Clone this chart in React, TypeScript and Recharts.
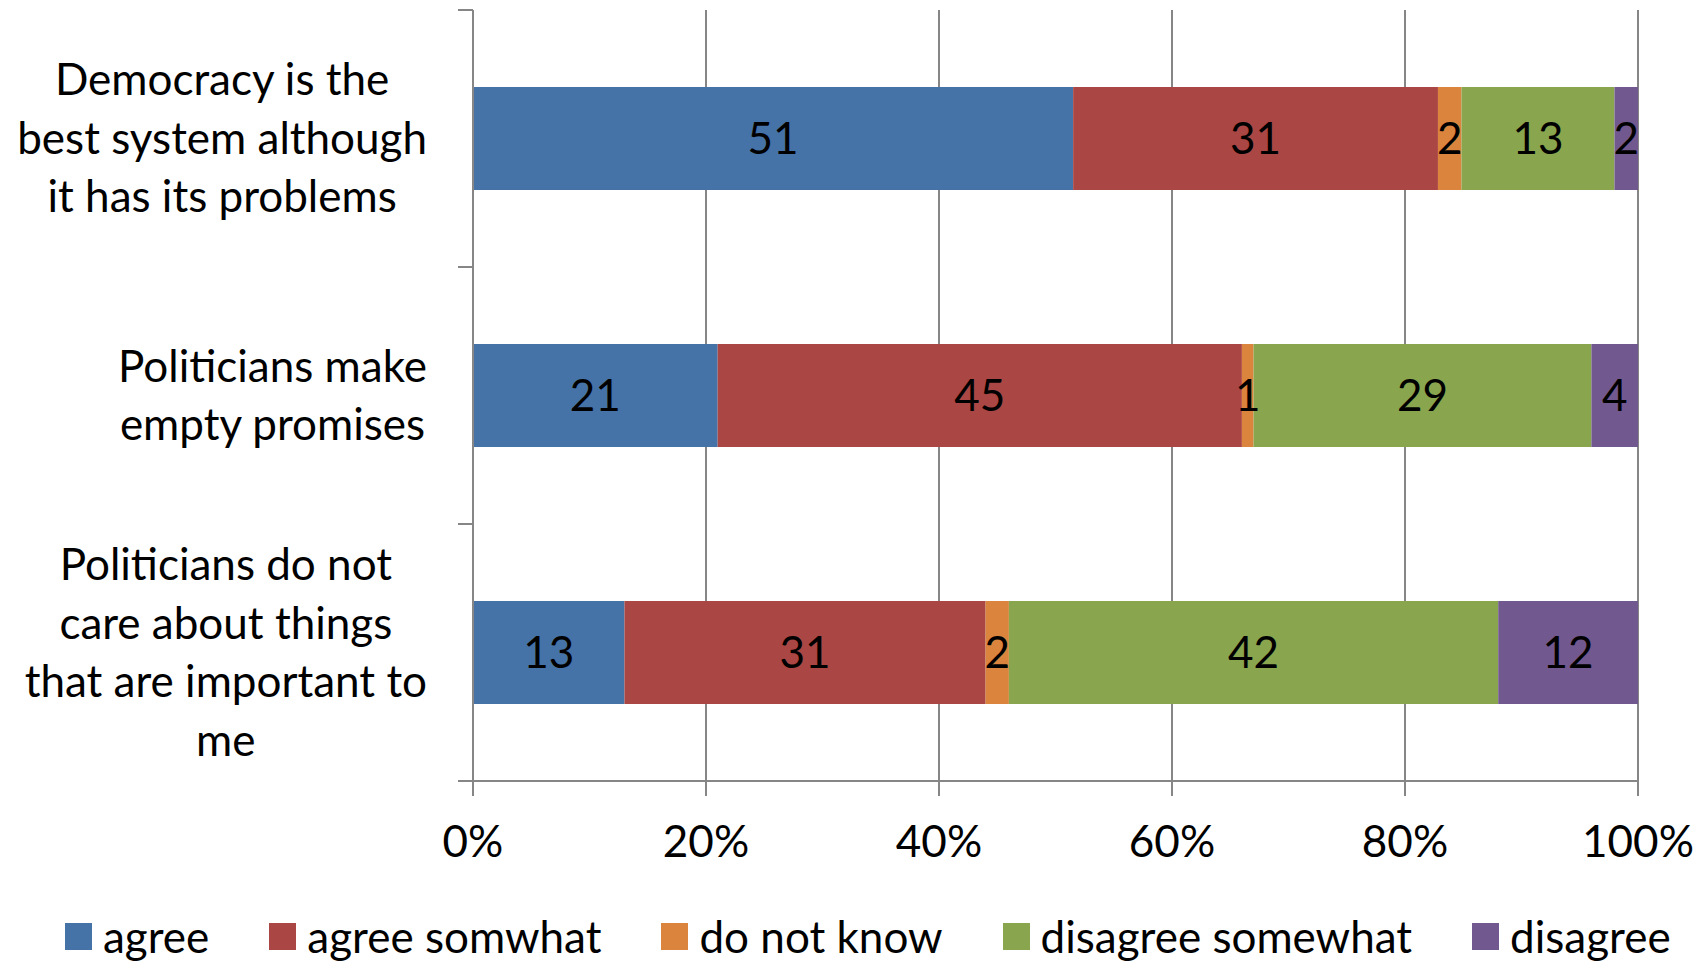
import { BarChart, Bar, XAxis, YAxis, CartesianGrid, Legend, LabelList } from "recharts";

const statements = [
  "Democracy is the\nbest system although\nit has its problems",
  "Politicians make\nempty promises",
  "Politicians do not\ncare about things\nthat are important to\nme",
];
const agree = [51, 21, 13];
const agreeSomewhat = [31, 45, 31];
const doNotKnow = [2, 1, 2];
const disagreeSomewhat = [13, 29, 42];
const disagree = [2, 4, 12];
const xTicks = [0, 0.2, 0.4, 0.6, 0.8, 1];

const series = [
  { key: "agree", name: "agree", color: "#4572A7" },
  { key: "agreeSomewhat", name: "agree somwhat", color: "#AA4643" },
  { key: "doNotKnow", name: "do not know", color: "#DB843D" },
  { key: "disagreeSomewhat", name: "disagree somewhat", color: "#89A54E" },
  { key: "disagree", name: "disagree", color: "#71588F" },
];

const data = statements.map((name, i) => ({
  name,
  agree: agree[i],
  agreeSomewhat: agreeSomewhat[i],
  doNotKnow: doNotKnow[i],
  disagreeSomewhat: disagreeSomewhat[i],
  disagree: disagree[i],
}));

const FONT = "Lato, 'Open Sans', sans-serif";
const FS = 44;
const GRAY = "#868686";
const AXIS_X = 473;
const LABEL_RIGHT = 427;
const BAND = (781 - 10) / statements.length;

let ctx: CanvasRenderingContext2D | null = null;
function textWidth(s: string) {
  if (!ctx) ctx = document.createElement("canvas").getContext("2d");
  if (!ctx) return s.length * FS * 0.5;
  ctx.font = `${FS}px Lato`;
  return ctx.measureText(s).width;
}

function CategoryTick(props: any) {
  const { y, payload } = props;
  const lines: string[] = String(payload.value).split("\n");
  const lh = 58.5;
  const start = y - ((lines.length - 1) * lh) / 2;
  // Excel-style: lines centred within the block, block right-aligned to the axis
  const blockW = Math.max(...lines.map(textWidth));
  const cx = LABEL_RIGHT - blockW / 2;
  return (
    <g>
      <line x1={AXIS_X - 15} x2={AXIS_X} y1={y - BAND / 2} y2={y - BAND / 2} stroke={GRAY} strokeWidth={2} />
      <line x1={AXIS_X - 15} x2={AXIS_X} y1={y + BAND / 2} y2={y + BAND / 2} stroke={GRAY} strokeWidth={2} />
      <text textAnchor="middle" fontFamily={FONT} fontSize={FS} fill="#000">
        {lines.map((l, i) => (
          <tspan key={i} x={cx} y={start + i * lh} dy="0.35em">
            {l}
          </tspan>
        ))}
      </text>
    </g>
  );
}

function LegendContent() {
  return (
    <div style={{ height: 80, display: "flex", alignItems: "center", paddingLeft: 65, paddingTop: 30, boxSizing: "border-box", fontFamily: FONT, fontSize: FS, whiteSpace: "nowrap" }}>
      {series.map((s) => (
        <div key={s.key} style={{ display: "flex", alignItems: "center", marginRight: 60, flexShrink: 0 }}>
          <span style={{ width: 27, height: 27, background: s.color, display: "inline-block", marginRight: 11 }} />
          <span style={{ lineHeight: 1 }}>{s.name}</span>
        </div>
      ))}
    </div>
  );
}

export default function App() {
  return (
    <div style={{ position: "absolute", left: 0, top: 0, background: "#fff" }}>
      <BarChart
        width={1703}
        height={961}
        data={data}
        layout="vertical"
        stackOffset="expand"
        barCategoryGap="30%"
        margin={{ top: 10, right: 65, bottom: 0, left: 0 }}
      >
        <CartesianGrid horizontal={false} stroke={GRAY} strokeWidth={2} />
        <XAxis
          type="number"
          domain={[0, 1]}
          ticks={xTicks}
          tickFormatter={(v: number) => `${Math.round(v * 100)}%`}
          height={100}
          tickSize={15}
          tickMargin={30}
          axisLine={{ stroke: GRAY, strokeWidth: 2 }}
          tickLine={{ stroke: GRAY, strokeWidth: 2 }}
          tick={{ fontFamily: FONT, fontSize: FS, fill: "#000" }}
          interval={0}
        />
        <YAxis
          type="category"
          dataKey="name"
          width={473}
          tick={<CategoryTick />}
          tickLine={false}
          axisLine={{ stroke: GRAY, strokeWidth: 2 }}
          interval={0}
        />
        <Legend verticalAlign="bottom" height={80} content={<LegendContent />} />
        {series.map((s) => (
          <Bar key={s.key} dataKey={s.key} name={s.name} stackId="a" fill={s.color} isAnimationActive={false}>
            <LabelList dataKey={s.key} position="center" fill="#000" fontFamily={FONT} fontSize={FS} />
          </Bar>
        ))}
      </BarChart>
    </div>
  );
}
